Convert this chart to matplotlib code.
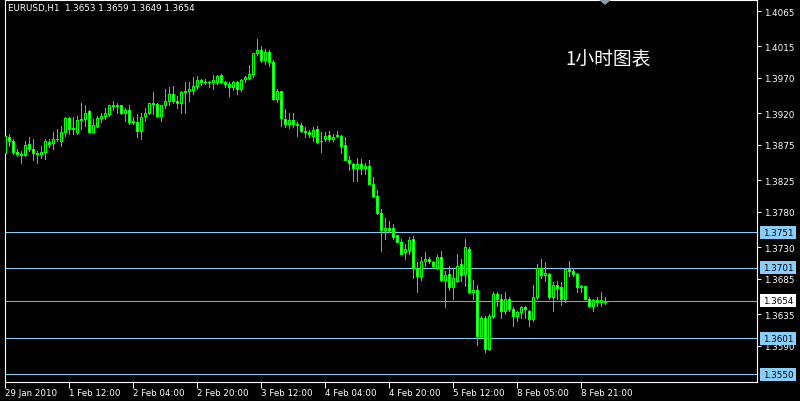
import matplotlib
matplotlib.use("Agg")
import matplotlib.pyplot as plt
from matplotlib.patches import Polygon, Rectangle
import matplotlib.transforms as mtransforms
import numpy as np

# ---------------- data (EURUSD H1) ----------------
opens = [1.3864, 1.3886, 1.3881, 1.3865, 1.3862, 1.3861, 1.3876, 1.3869, 1.3864, 1.3862,
         1.3865, 1.3879, 1.3878, 1.3883, 1.3881, 1.3893, 1.3913, 1.3898, 1.3894, 1.3910,
         1.3912, 1.3923, 1.3894, 1.3902, 1.3913, 1.3916, 1.3919, 1.3931, 1.3930, 1.3931,
         1.3920, 1.3924, 1.3907, 1.3908, 1.3895, 1.3916, 1.3921, 1.3934, 1.3933, 1.3916,
         1.3932, 1.3938, 1.3948, 1.3938, 1.3934, 1.3950, 1.3951, 1.3953, 1.3958, 1.3967,
         1.3964, 1.3965, 1.3964, 1.3965, 1.3974, 1.3964, 1.3961, 1.3957, 1.3964, 1.3954,
         1.3968, 1.3970, 1.3976, 1.4005, 1.4009, 1.3995, 1.4007, 1.3992, 1.3940, 1.3951,
         1.3912, 1.3905, 1.3910, 1.3905, 1.3903, 1.3895, 1.3893, 1.3888, 1.3898, 1.3880,
         1.3883, 1.3889, 1.3883, 1.3888, 1.3888, 1.3875, 1.3854, 1.3848, 1.3843, 1.3848,
         1.3842, 1.3845, 1.3820, 1.3802, 1.3778, 1.3755, 1.3757, 1.3757, 1.3747, 1.3738,
         1.3723, 1.3726, 1.3741, 1.3701, 1.3689, 1.3710, 1.3713, 1.3709, 1.3701, 1.3716,
         1.3684, 1.3692, 1.3673, 1.3682, 1.3706, 1.3692, 1.3728, 1.3667, 1.3669, 1.3604,
         1.3630, 1.3585, 1.3632, 1.3663, 1.3656, 1.3640, 1.3656, 1.3642, 1.3632, 1.3638,
         1.3645, 1.3640, 1.3628, 1.3659, 1.3701, 1.3690, 1.3692, 1.3659, 1.3676, 1.3673,
         1.3656, 1.3699, 1.3696, 1.3692, 1.3673, 1.3675, 1.3657, 1.3646, 1.3655, 1.3653,
         1.3653]
highs = [1.3890, 1.3890, 1.3883, 1.3869, 1.3867, 1.3881, 1.3886, 1.3883, 1.3867, 1.3874,
         1.3883, 1.3883, 1.3894, 1.3898, 1.3902, 1.3914, 1.3914, 1.3914, 1.3916, 1.3934,
         1.3932, 1.3924, 1.3912, 1.3916, 1.3921, 1.3928, 1.3932, 1.3938, 1.3934, 1.3932,
         1.3928, 1.3931, 1.3914, 1.3919, 1.3921, 1.3928, 1.3935, 1.3950, 1.3935, 1.3932,
         1.3955, 1.3957, 1.3959, 1.3945, 1.3952, 1.3964, 1.3964, 1.3972, 1.3973, 1.3969,
         1.3969, 1.3966, 1.3974, 1.3974, 1.3976, 1.3966, 1.3964, 1.3966, 1.3966, 1.3968,
         1.3973, 1.3988, 1.4006, 1.4025, 1.4016, 1.4011, 1.4009, 1.3995, 1.3955, 1.3952,
         1.3926, 1.3921, 1.3920, 1.3908, 1.3906, 1.3900, 1.3896, 1.3900, 1.3902, 1.3893,
         1.3893, 1.3895, 1.3890, 1.3895, 1.3889, 1.3886, 1.3860, 1.3850, 1.3856, 1.3855,
         1.3850, 1.3853, 1.3829, 1.3811, 1.3784, 1.3772, 1.3767, 1.3763, 1.3748, 1.3741,
         1.3734, 1.3744, 1.3746, 1.3709, 1.3716, 1.3723, 1.3716, 1.3710, 1.3719, 1.3724,
         1.3696, 1.3703, 1.3701, 1.3720, 1.3713, 1.3741, 1.3731, 1.3684, 1.3677, 1.3632,
         1.3632, 1.3635, 1.3666, 1.3666, 1.3663, 1.3666, 1.3659, 1.3645, 1.3639, 1.3646,
         1.3646, 1.3641, 1.3677, 1.3706, 1.3713, 1.3709, 1.3693, 1.3680, 1.3682, 1.3680,
         1.3701, 1.3710, 1.3701, 1.3693, 1.3677, 1.3675, 1.3660, 1.3657, 1.3660, 1.3667,
         1.3659]
lows = [1.3860, 1.3874, 1.3862, 1.3860, 1.3850, 1.3860, 1.3867, 1.3853, 1.3850, 1.3857,
        1.3855, 1.3872, 1.3869, 1.3881, 1.3874, 1.3888, 1.3890, 1.3890, 1.3890, 1.3898,
        1.3902, 1.3893, 1.3893, 1.3900, 1.3907, 1.3912, 1.3916, 1.3924, 1.3921, 1.3919,
        1.3909, 1.3905, 1.3905, 1.3886, 1.3883, 1.3909, 1.3919, 1.3919, 1.3914, 1.3909,
        1.3928, 1.3931, 1.3935, 1.3928, 1.3921, 1.3921, 1.3938, 1.3947, 1.3954, 1.3960,
        1.3961, 1.3957, 1.3954, 1.3961, 1.3963, 1.3957, 1.3945, 1.3953, 1.3947, 1.3952,
        1.3964, 1.3968, 1.3971, 1.4002, 1.3992, 1.3990, 1.3987, 1.3939, 1.3936, 1.3902,
        1.3900, 1.3899, 1.3900, 1.3888, 1.3894, 1.3886, 1.3886, 1.3881, 1.3878, 1.3865,
        1.3881, 1.3881, 1.3880, 1.3886, 1.3864, 1.3853, 1.3840, 1.3824, 1.3824, 1.3834,
        1.3834, 1.3819, 1.3801, 1.3777, 1.3724, 1.3741, 1.3751, 1.3741, 1.3737, 1.3720,
        1.3713, 1.3720, 1.3686, 1.3667, 1.3684, 1.3703, 1.3707, 1.3700, 1.3699, 1.3682,
        1.3645, 1.3670, 1.3656, 1.3680, 1.3682, 1.3675, 1.3665, 1.3656, 1.3592, 1.3603,
        1.3582, 1.3584, 1.3630, 1.3646, 1.3630, 1.3635, 1.3639, 1.3619, 1.3625, 1.3630,
        1.3630, 1.3619, 1.3626, 1.3656, 1.3687, 1.3682, 1.3656, 1.3639, 1.3656, 1.3648,
        1.3653, 1.3689, 1.3689, 1.3667, 1.3667, 1.3656, 1.3645, 1.3639, 1.3646, 1.3646,
        1.3649]
closes = [1.3888, 1.3880, 1.3865, 1.3862, 1.3861, 1.3875, 1.3869, 1.3864, 1.3862, 1.3865,
          1.3881, 1.3876, 1.3883, 1.3884, 1.3893, 1.3913, 1.3897, 1.3899, 1.3910, 1.3912,
          1.3921, 1.3894, 1.3903, 1.3913, 1.3916, 1.3920, 1.3931, 1.3930, 1.3931, 1.3921,
          1.3925, 1.3907, 1.3909, 1.3895, 1.3914, 1.3920, 1.3934, 1.3933, 1.3916, 1.3932,
          1.3938, 1.3947, 1.3938, 1.3934, 1.3950, 1.3951, 1.3955, 1.3958, 1.3967, 1.3964,
          1.3965, 1.3964, 1.3967, 1.3973, 1.3964, 1.3962, 1.3957, 1.3964, 1.3954, 1.3967,
          1.3971, 1.3976, 1.4005, 1.4010, 1.3995, 1.4007, 1.3992, 1.3940, 1.3952, 1.3913,
          1.3905, 1.3910, 1.3905, 1.3903, 1.3895, 1.3893, 1.3890, 1.3896, 1.3879, 1.3881,
          1.3888, 1.3883, 1.3887, 1.3889, 1.3874, 1.3854, 1.3849, 1.3843, 1.3848, 1.3842,
          1.3845, 1.3820, 1.3803, 1.3778, 1.3755, 1.3757, 1.3755, 1.3744, 1.3738, 1.3721,
          1.3727, 1.3740, 1.3701, 1.3689, 1.3710, 1.3713, 1.3710, 1.3703, 1.3716, 1.3683,
          1.3690, 1.3673, 1.3686, 1.3704, 1.3690, 1.3730, 1.3667, 1.3669, 1.3604, 1.3630,
          1.3585, 1.3633, 1.3663, 1.3657, 1.3639, 1.3656, 1.3642, 1.3632, 1.3638, 1.3645,
          1.3642, 1.3628, 1.3660, 1.3701, 1.3690, 1.3693, 1.3659, 1.3676, 1.3672, 1.3656,
          1.3699, 1.3696, 1.3692, 1.3673, 1.3675, 1.3657, 1.3646, 1.3655, 1.3653, 1.3655,
          1.3654]

x_tick_bars = [0, 16, 32, 48, 64, 80, 96, 112, 128, 144]
x_tick_labels = ["29 Jan 2010", "1 Feb 12:00", "2 Feb 04:00", "2 Feb 20:00", "3 Feb 12:00",
                 "4 Feb 04:00", "4 Feb 20:00", "5 Feb 12:00", "8 Feb 05:00", "8 Feb 21:00"]
y_tick_values = [1.4065, 1.4015, 1.3970, 1.3920, 1.3875, 1.3825, 1.3780, 1.3730,
                 1.3685, 1.3635, 1.3590]
level_values = [1.3751, 1.3701, 1.3601, 1.3550]
bid_value = 1.3654
title_text = "EURUSD,H1  1.3653 1.3659 1.3649 1.3654"
note_text = "1小时图表"

# ---------------- styling ----------------
LIME = "#00FF00"
LEVEL_COL = "#87CEFA"
BID_COL = "#A0A0A0"
W, H = 800, 402

fig = plt.figure(figsize=(W / 100, H / 100), dpi=100, facecolor="black")
ax_l, ax_r, ax_t, ax_b = 4.5, 757.0, 1.0, 382.5
ax = fig.add_axes([ax_l / W, 1 - ax_b / H, (ax_r - ax_l) / W, (ax_b - ax_t) / H])
ax.set_facecolor("black")

n = len(opens)
xs = np.arange(n)
o = np.array(opens); h = np.array(highs); l = np.array(lows); c = np.array(closes)

ax.set_xlim(-0.125, -0.125 + (ax_r - ax_l) / 4.0)
ax.set_ylim(1.35396, 1.40806)

# horizontal levels
for lv in level_values:
    ax.axhline(lv, color=LEVEL_COL, lw=0.75, zorder=1)
ax.axhline(bid_value, color=BID_COL, lw=0.75, zorder=1)

# wicks
ax.vlines(xs, l, h, color=LIME, lw=0.72, zorder=2, antialiased=False)
# bodies
bull = c >= o
bottoms = np.minimum(o, c)
heights = np.abs(c - o)
ax.bar(xs[bull], heights[bull], bottom=bottoms[bull], width=0.5,
       facecolor="black", edgecolor=LIME, linewidth=0.72, zorder=3, antialiased=False)
ax.bar(xs[~bull], heights[~bull], bottom=bottoms[~bull], width=0.5,
       facecolor="white", edgecolor=LIME, linewidth=0.72, zorder=3, antialiased=False)

# spines
for sp in ax.spines.values():
    sp.set_color("white")
    sp.set_linewidth(0.8)

# y axis on the right
ax.yaxis.tick_right()
ax.set_yticks(y_tick_values)
ax.set_yticklabels(["%.4f" % v for v in y_tick_values])
ax.tick_params(axis="y", colors="white", length=3, width=0.7, labelsize=6.3, pad=2)

# x axis
ax.set_xticks(x_tick_bars)
ax.set_xticklabels(x_tick_labels)
ax.tick_params(axis="x", colors="white", length=4, width=0.7, labelsize=6.3, pad=0.5)
for lbl in ax.get_xticklabels():
    lbl.set_ha("left")

# price label boxes on the right axis
trans = mtransforms.blended_transform_factory(ax.transAxes, ax.transData)
box_x0 = (760 - ax_l) / (ax_r - ax_l)
box_w = 36 / (ax_r - ax_l)
px_price = (1.40806 - 1.35396) / (ax_b - ax_t)
box_h = 13 * px_price
for lv in level_values:
    ax.add_patch(Rectangle((box_x0, lv - box_h / 2), box_w, box_h, transform=trans,
                           facecolor=LEVEL_COL, edgecolor="none", clip_on=False, zorder=5))
    ax.text(box_x0 + box_w / 2, lv, "%.4f" % lv, transform=trans, ha="center", va="center",
            fontsize=6.3, color="black", clip_on=False, zorder=6)
ax.add_patch(Rectangle((box_x0, bid_value - box_h / 2), box_w, box_h, transform=trans,
                       facecolor="white", edgecolor="none", clip_on=False, zorder=5))
ax.text(box_x0 + box_w / 2, bid_value, "%.4f" % bid_value, transform=trans, ha="center",
        va="center", fontsize=6.3, color="black", clip_on=False, zorder=6)

# title and note
fig.text(8 / W, 1 - 9 / H, title_text, color="white", fontsize=6.3, ha="left", va="center")
fig.text(565 / W, 1 - 60 / H, note_text, color="white", fontsize=13.5, ha="left", va="center",
         family=["Noto Sans CJK SC", "DejaVu Sans"])

# chart-shift marker
fig.patches.append(Polygon([(598 / W, 1.0), (612 / W, 1.0), (605 / W, 1 - 6 / H)],
                           closed=True, transform=fig.transFigure, facecolor="#8A9AA6",
                           edgecolor="none"))

fig.savefig("out.png", dpi=100, facecolor="black")
